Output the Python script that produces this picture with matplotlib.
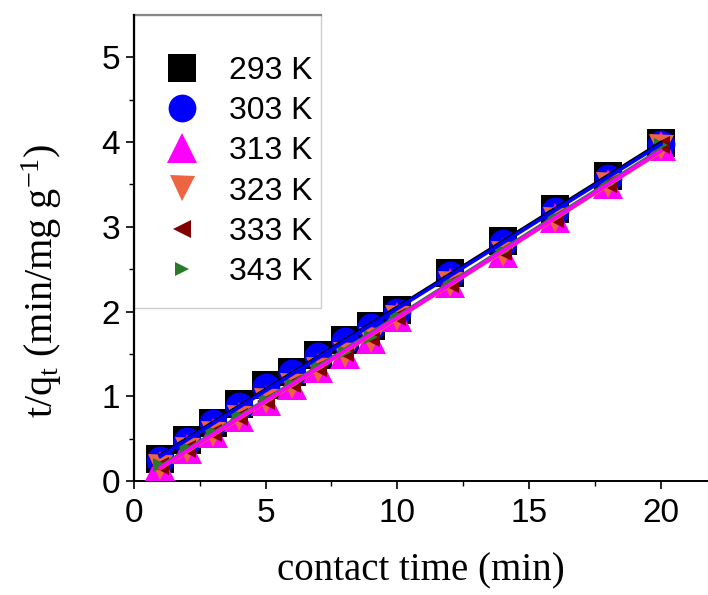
import matplotlib
matplotlib.use("Agg")
import matplotlib.pyplot as plt
from matplotlib.patches import Rectangle
import numpy as np

plt.rcParams['font.family'] = 'Liberation Sans'
plt.rcParams['mathtext.fontset'] = 'custom'
plt.rcParams['mathtext.rm'] = 'Liberation Serif'
plt.rcParams['mathtext.it'] = 'Liberation Serif:italic'

# contact time (min)
t = [1, 2, 3, 4, 5, 6, 7, 8, 9, 10, 12, 14, 16, 18, 20]

# t/qt values
q293 = [0.26, 0.48, 0.69, 0.91, 1.13, 1.29, 1.49, 1.66, 1.83, 2.02, 2.45, 2.83, 3.21, 3.60, 3.99]
q303 = [0.25, 0.47, 0.68, 0.89, 1.11, 1.28, 1.47, 1.65, 1.82, 2.00, 2.43, 2.81, 3.19, 3.58, 3.98]
q313 = [0.18, 0.38, 0.57, 0.75, 0.95, 1.13, 1.33, 1.50, 1.68, 1.94, 2.34, 2.69, 3.10, 3.50, 3.95]
q323 = [0.17, 0.37, 0.56, 0.74, 0.94, 1.12, 1.31, 1.49, 1.67, 1.92, 2.32, 2.68, 3.08, 3.49, 3.94]
q333 = [0.18, 0.38, 0.57, 0.76, 0.95, 1.14, 1.33, 1.51, 1.69, 1.93, 2.33, 2.70, 3.09, 3.50, 3.96]
q343 = [0.19, 0.39, 0.58, 0.77, 0.96, 1.15, 1.34, 1.52, 1.70, 1.95, 2.35, 2.71, 3.11, 3.51, 3.97]

labels = ['293 K', '303 K', '313 K', '323 K', '333 K', '343 K']
series = [q293, q303, q313, q323, q333, q343]
colors = ['#000000', '#0000ff', '#ff00ff', '#ee6340', '#800000', '#2a7a2a']
markers = ['s', 'o', '^', 'v', '<', '>']
msizes = [19.5, 20, 21, 18, 13, 10]

fig = plt.figure(figsize=(7.08, 5.95), dpi=100)
ax = fig.add_axes([134 / 708, 1 - 481 / 595, 1 - 134 / 708, (481 - 15) / 595])

x = np.array(t)
for q, c, m, s, lab in zip(series, colors, markers, msizes, labels):
    ax.plot(x, q, linestyle='none', marker=m, markersize=s, color=c,
            markeredgewidth=0, label=lab, zorder=3)

# linear fits, magenta drawn last so it sits on top like the original
for i in [0, 1, 3, 4, 5, 2]:
    k, b = np.polyfit(x, series[i], 1)
    xx = np.array([x.min(), x.max()])
    ax.plot(xx, k * xx + b, color=colors[i], linewidth=2.6, zorder=4 + (i == 2))

ax.set_xlim(0, 21.8)
ax.set_ylim(0, 5.5)
ax.set_xticks([0, 5, 10, 15, 20])
ax.set_xticks([2.5, 7.5, 12.5, 17.5], minor=True)
ax.set_yticks([0, 1, 2, 3, 4, 5])
ax.set_yticks([0.5, 1.5, 2.5, 3.5, 4.5], minor=True)
ax.tick_params(which='major', direction='out', length=6, width=1.2, labelsize=24, pad=4)
ax.tick_params(which='minor', direction='out', length=3.5, width=1.0)
ax.tick_params(axis='x', pad=6)

ax.spines['top'].set_visible(False)
ax.spines['right'].set_visible(False)
ax.spines['left'].set_linewidth(1.6)
ax.spines['bottom'].set_linewidth(1.4)

ax.set_xlabel('contact time (min)', family='Liberation Serif', fontsize=28, labelpad=17)
ax.set_ylabel(r'$\mathrm{t/q_t\ (min/mg\ g^{-1})}$', fontsize=29)
ax.yaxis.set_label_coords(-0.122, 0.43)

leg = ax.legend(loc='upper left', bbox_to_anchor=(0.0505, 0.912), borderaxespad=0,
                fontsize=23, frameon=False, borderpad=0, labelspacing=0.32,
                handlelength=1.2, handletextpad=0.875, numpoints=1)

# legend box: faint sides, darker top edge
ax.add_patch(Rectangle((0, 0.371), 0.326, 0.629, transform=ax.transAxes,
                       facecolor='none', edgecolor='#cccccc', linewidth=1.0,
                       clip_on=False, zorder=2))
ax.plot([0, 0.326], [1, 1], transform=ax.transAxes, color='#888888',
        linewidth=1.6, clip_on=False, zorder=2)

fig.savefig('out.png', dpi=100)
